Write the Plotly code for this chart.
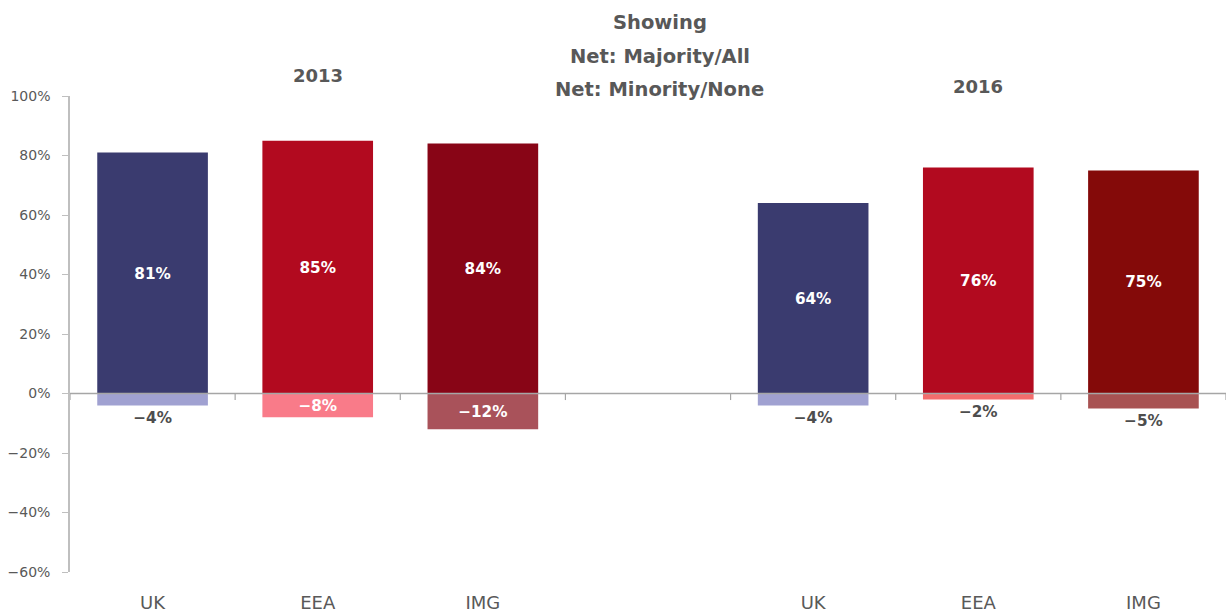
import plotly.graph_objects as go

# Survey groups and years
groups = ["UK", "EEA", "IMG"]
years = ["2013", "2016"]

# Net: Majority/All (positive) and Net: Minority/None (negative), in percent
majority_2013 = [81, 85, 84]
majority_2016 = [64, 76, 75]
minority_2013 = [-4, -8, -12]
minority_2016 = [-4, -2, -5]

# Y axis ticks
y_ticks = [-60, -40, -20, 0, 20, 40, 60, 80, 100]

# Colours per group / year
majority_colors_2013 = ["#3A3B6F", "#B20A1F", "#880516"]
majority_colors_2016 = ["#3A3B6F", "#B20A1F", "#840A09"]
minority_colors_2013 = ["#A0A1D1", "#F97B89", "#A9525A"]
minority_colors_2016 = ["#A0A1D1", "#F26D6D", "#A85252"]

FONT = "DejaVu Sans"
GREY = "#595959"
TITLE_GREY = "#585858"
AXIS_GREY = "#BFBFBF"

# Category keys: three groups per year with an empty spacer slot between the years
keys_2013 = [f"{g} {years[0]}" for g in groups]
keys_2016 = [f"{g} {years[1]}" for g in groups]
spacer = " "
x_keys = keys_2013 + [spacer] + keys_2016

maj_vals = majority_2013 + [None] + majority_2016
min_vals = minority_2013 + [None] + minority_2016
maj_cols = majority_colors_2013 + ["rgba(0,0,0,0)"] + majority_colors_2016
min_cols = minority_colors_2013 + ["rgba(0,0,0,0)"] + minority_colors_2016


def pct(v):
    if v is None:
        return ""
    return f"{v}%".replace("-", "\u2212")


# Negative labels sit inside the bar when it is tall enough, else below it
min_pos, min_txt_col = [], []
for v in min_vals:
    if v is not None and v <= -8:
        min_pos.append("inside")
        min_txt_col.append("white")
    else:
        min_pos.append("outside")
        min_txt_col.append("#4D4D4D")

fig = go.Figure()
fig.add_trace(go.Bar(
    x=x_keys, y=maj_vals, marker=dict(color=maj_cols, line=dict(width=0)),
    text=[pct(v) for v in maj_vals], textposition="inside",
    insidetextanchor="middle",
    textfont=dict(family=FONT, size=18, color="white", weight="bold"),
    hoverinfo="skip", showlegend=False,
))
fig.add_trace(go.Bar(
    x=x_keys, y=min_vals, marker=dict(color=min_cols, line=dict(width=0)),
    text=[pct(v) for v in min_vals], textposition=min_pos,
    insidetextanchor="middle",
    textfont=dict(family=FONT, size=18, color=min_txt_col, weight="bold"),
    hoverinfo="skip", showlegend=False, cliponaxis=False,
))

n = len(x_keys)
shapes = [dict(type="line", xref="paper", yref="y", x0=0, x1=1, y0=0, y1=0,
               line=dict(color="#A6A6A6", width=1.5), layer="above")]
# Category boundary tick marks hanging below the zero line
for i in range(n + 1):
    shapes.append(dict(type="line", xref="x", yref="y", x0=i - 0.5, x1=i - 0.5,
                       y0=0, y1=-2.2, line=dict(color="#A6A6A6", width=1.2),
                       layer="above"))

annotations = []
title_lines = ["Showing", "Net: Majority/All", "Net: Minority/None"]
title_y = [1.155, 1.084, 1.013]
for txt, yy in zip(title_lines, title_y):
    annotations.append(dict(text=txt, xref="paper", yref="paper", x=0.51, y=yy,
                            showarrow=False, xanchor="center", yanchor="middle",
                            font=dict(family=FONT, size=19.5, color=TITLE_GREY,
                                      weight="bold")))
annotations.append(dict(text=years[0], xref="x", yref="paper", x=keys_2013[1], y=1.044,
                        showarrow=False, xanchor="center", yanchor="middle",
                        font=dict(family=FONT, size=18, color=TITLE_GREY, weight="bold")))
annotations.append(dict(text=years[1], xref="x", yref="paper", x=keys_2016[1], y=1.021,
                        showarrow=False, xanchor="center", yanchor="middle",
                        font=dict(family=FONT, size=18, color=TITLE_GREY, weight="bold")))

fig.update_layout(
    width=1226, height=615,
    margin=dict(l=70, r=0, t=96, b=43),
    paper_bgcolor="white", plot_bgcolor="white",
    barmode="overlay", bargap=0.33,
    uniformtext=dict(minsize=8, mode="show"),
    shapes=shapes, annotations=annotations,
    xaxis=dict(
        type="category", categoryorder="array", categoryarray=x_keys,
        range=[-0.5, n - 0.5], showgrid=False, zeroline=False, showline=False,
        ticks="", tickvals=keys_2013 + keys_2016, ticktext=groups + groups,
        ticklabelstandoff=18,
        tickfont=dict(family=FONT, size=18, color=GREY),
    ),
    yaxis=dict(
        range=[-60, 100], tickmode="array", tickvals=y_ticks,
        ticktext=[pct(v) for v in y_ticks],
        showgrid=False, zeroline=False, showline=True,
        linecolor=AXIS_GREY, linewidth=1.5, ticks="outside", ticklen=6,
        tickcolor=AXIS_GREY, tickwidth=1.2, ticklabelstandoff=9,
        tickfont=dict(family=FONT, size=14, color=GREY),
    ),
)

fig.write_html("out.html")
